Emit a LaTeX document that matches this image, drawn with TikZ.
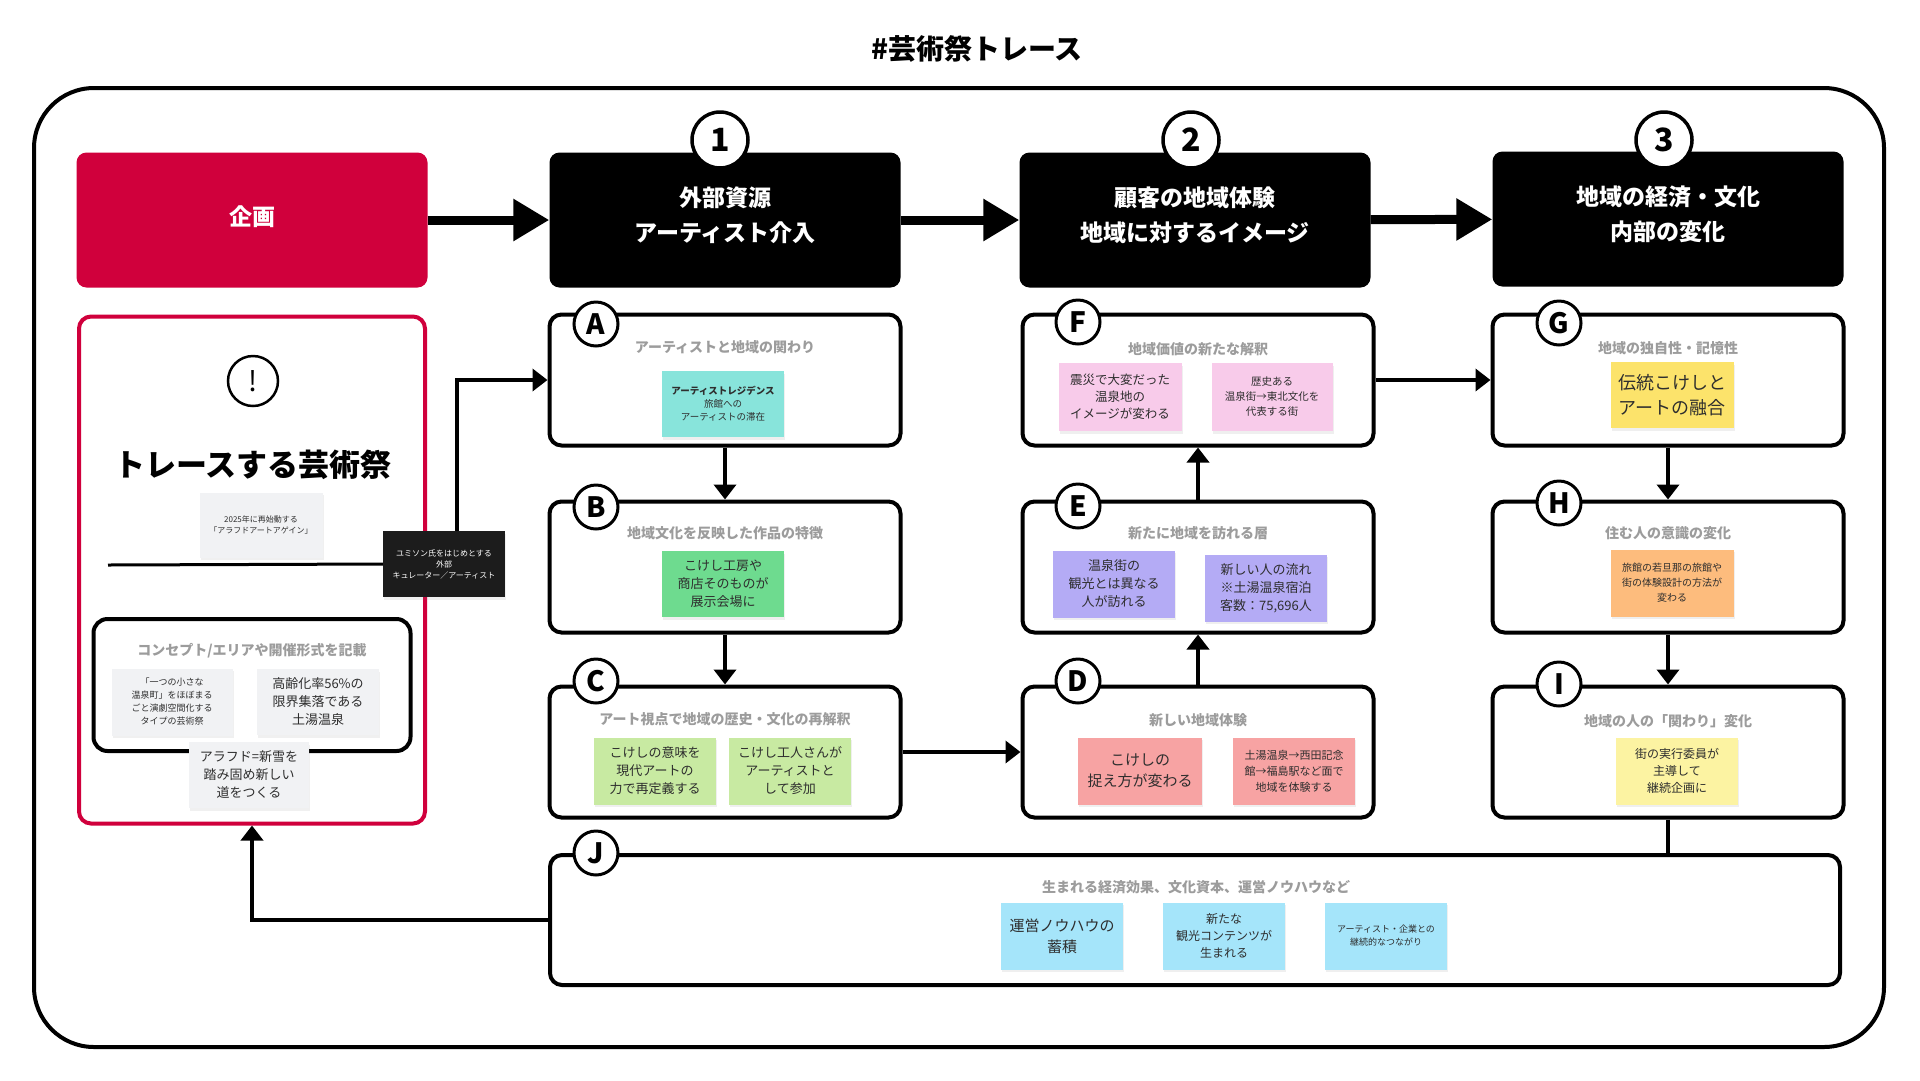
\documentclass[tikz,border=0pt]{standalone}
\usepackage{fontspec}
\setmainfont{Noto Sans CJK JP}
\usetikzlibrary{arrows.meta,shadows}

\definecolor{planred}{HTML}{D0003C}
\definecolor{ttlgray}{HTML}{9C9C9C}
\definecolor{ink}{HTML}{2E2E2E}
\definecolor{paper}{HTML}{F1F2F4}
\definecolor{extbg}{HTML}{1C1C1C}
\definecolor{noteA}{HTML}{88E4DB}
\definecolor{noteB}{HTML}{6EDB8F}
\definecolor{noteC}{HTML}{C8EAA2}
\definecolor{noteD}{HTML}{F7A3A3}
\definecolor{noteE}{HTML}{B4ABF5}
\definecolor{noteF}{HTML}{F8CBEA}
\definecolor{noteG}{HTML}{FCE36B}
\definecolor{noteH}{HTML}{FDBC7D}
\definecolor{noteI}{HTML}{FCF3A2}
\definecolor{noteJ}{HTML}{A5E5FA}

\tikzset{
    fs/.style 2 args={font=\fontsize{#1}{#2}\selectfont},
    hdr/.style={fill=black, rounded corners=10pt, minimum width=351pt, minimum height=135pt,
        text=white, align=center, text depth=12pt, font=\bfseries\fontsize{23}{35}\selectfont},
    panel/.style={draw, line width=4pt, fill=white, rounded corners=12pt,
        minimum width=351pt, minimum height=131pt},
    tag/.style={circle, draw, line width=3pt, fill=white, minimum size=44pt, inner sep=0pt,
        font=\bfseries\fontsize{28}{28}\selectfont},
    num/.style={circle, draw, line width=3.5pt, fill=white, minimum size=56pt, inner sep=0pt,
        font=\bfseries\fontsize{32}{32}\selectfont},
    ttl/.style={text=ttlgray, font=\bfseries\fontsize{14}{14}\selectfont},
    note/.style={fill=#1, minimum width=122pt, minimum height=66pt, inner sep=2pt,
        align=center, text=ink,
        drop shadow={opacity=0.12, shadow xshift=1pt, shadow yshift=-2.5pt}},
    flow/.style={line width=9pt, -{Triangle[length=36pt,width=40pt]}},
    link/.style={line width=4pt, -{Triangle[length=15pt,width=22pt]}},
}

\begin{document}
\begin{tikzpicture}[x=1pt, y=-1pt]
    \useasboundingbox (0,0) rectangle (1920,1080);

    % frame and title
    \draw[line width=4pt, rounded corners=60pt] (34,88) rectangle (1884,1047);
    \node[font=\bfseries\fontsize{28}{28}\selectfont] (title) at (977,49) {\#芸術祭トレース};

    % top row
    \node[hdr, fill=planred, text depth=8pt] (plan) at (252,220) {企画};
    \node[hdr] (h1) at (725,220) {外部資源\\アーティスト介入};
    \node[hdr] (h2) at (1195,220) {顧客の地域体験\\地域に対するイメージ};
    \node[hdr] (h3) at (1668,219) {地域の経済・文化\\内部の変化};
    \node[num] (n1) at (720,140) {1};
    \node[num] (n2) at (1191,140) {2};
    \node[num] (n3) at (1664,140) {3};

    \draw[flow] (plan) -- (h1);
    \draw[flow] (h1) -- (h2);
    \draw[flow] (h2) -- (h3);

    % left panel
    \node[draw=planred, line width=4pt, rounded corners=12pt, minimum width=346pt,
        minimum height=507pt] (trace) at (252,570) {};
    \node[circle, draw, line width=2.5pt, minimum size=50pt, inner sep=0pt,
        fs={28}{28}] (alert) at (253,381) {!};
    \node[font=\bfseries\fontsize{31}{31}\selectfont] (tracettl) at (253,465) {トレースする芸術祭};
    \node[note=paper, minimum width=123pt, minimum height=65pt, fs={8}{11}] (revive) at (261,525)
        {2025年に再始動する\\「アラフドアートアゲイン」};
    \node[note=extbg, text=white, fs={8}{11}] (ext) at (444,564)
        {ユミソン氏をはじめとする\\外部\\キュレーター／アーティスト};
    \coordinate (rule) at (108,565);
    \draw[line width=3pt] (rule) -- (ext.west);

    \node[draw, line width=4pt, rounded corners=14pt, minimum width=317pt,
        minimum height=132pt] (concept) at (252,685) {};
    \node[ttl] (conceptttl) at (252,651) {コンセプト/エリアや開催形式を記載};
    \node[note=paper, minimum width=121pt, minimum height=67pt, fs={9}{13}] (town) at (172,702)
        {「一つの小さな\\温泉町」をほぼまる\\ごと演劇空間化する\\タイプの芸術祭};
    \node[note=paper, fs={13}{18}] (aging) at (318,702)
        {高齢化率56\%の\\限界集落である\\土湯温泉};
    \node[note=paper, minimum width=120pt, fs={13}{18}] (arafd) at (249,775)
        {アラフド=新雪を\\踏み固め新しい\\道をつくる};

    % column 1
    \node[panel] (A) at (725,380) {};
    \node[panel] (B) at (725,567) {};
    \node[panel] (C) at (725,752) {};
    \node[tag] (tA) at (596,324) {A};
    \node[tag] (tB) at (596,507) {B};
    \node[tag] (tC) at (596,681) {C};
    \node[ttl] (At) at (725,347) {アーティストと地域の関わり};
    \node[ttl] (Bt) at (725,533) {地域文化を反映した作品の特徴};
    \node[ttl] (Ct) at (725,719) {アート視点で地域の歴史・文化の再解釈};
    \node[note=noteA, fs={9.5}{13}] (resid) at (723,404)
        {\textbf{アーティストレジデンス}\\旅館への\\アーティストの滞在};
    \node[note=noteB, fs={13}{18}] (studio) at (723,584)
        {こけし工房や\\商店そのものが\\展示会場に};
    \node[note=noteC, minimum height=67pt, fs={13}{18}] (redef) at (655,771)
        {こけしの意味を\\現代アートの\\力で再定義する};
    \node[note=noteC, minimum height=67pt, fs={13}{18}] (maker) at (790,771)
        {こけし工人さんが\\アーティストと\\して参加};

    % column 2
    \node[panel] (F) at (1198,380) {};
    \node[panel] (E) at (1198,567) {};
    \node[panel] (D) at (1198,752) {};
    \node[tag] (tF) at (1078,322) {F};
    \node[tag] (tE) at (1078,506) {E};
    \node[tag] (tD) at (1078,681) {D};
    \node[ttl] (Ft) at (1198,349) {地域価値の新たな解釈};
    \node[ttl] (Et) at (1198,533) {新たに地域を訪れる層};
    \node[ttl] (Dt) at (1198,720) {新しい地域体験};
    \node[note=noteF, minimum width=123pt, minimum height=68pt, fs={12.5}{17}] (quake) at (1120,397)
        {震災で大変だった\\温泉地の\\イメージが変わる};
    \node[note=noteF, minimum width=121pt, minimum height=68pt, fs={10.5}{15}] (history) at (1272,397)
        {歴史ある\\温泉街→東北文化を\\代表する街};
    \node[note=noteE, minimum height=67pt, fs={13}{18}] (visit) at (1114,584)
        {温泉街の\\観光とは異なる\\人が訪れる};
    \node[note=noteE, minimum height=67pt, fs={13}{18}] (stream) at (1266,588)
        {新しい人の流れ\\※土湯温泉宿泊\\客数：75,696人};
    \node[note=noteD, minimum width=124pt, minimum height=67pt, fs={15}{21}] (view) at (1140,771)
        {こけしの\\捉え方が変わる};
    \node[note=noteD, minimum height=67pt, fs={11}{16}] (route) at (1294,771)
        {土湯温泉→西田記念\\館→福島駅など面で\\地域を体験する};

    % column 3
    \node[panel] (G) at (1668,380) {};
    \node[panel] (H) at (1668,567) {};
    \node[panel] (I) at (1668,752) {};
    \node[tag] (tG) at (1559,323) {G};
    \node[tag] (tH) at (1559,503) {H};
    \node[tag] (tI) at (1559,684) {I};
    \node[ttl] (Gt) at (1668,348) {地域の独自性・記憶性};
    \node[ttl] (Ht) at (1668,533) {住む人の意識の変化};
    \node[ttl] (It) at (1668,721) {地域の人の「関わり」変化};
    \node[note=noteG, minimum width=123pt, fs={18}{25}] (fusion) at (1672,395)
        {伝統こけしと\\アートの融合};
    \node[note=noteH, minimum width=123pt, minimum height=67pt, fs={10}{15}] (inn) at (1672,583)
        {旅館の若旦那の旅館や\\街の体験設計の方法が\\変わる};
    \node[note=noteI, minimum height=67pt, fs={12}{17}] (lead) at (1677,771)
        {街の実行委員が\\主導して\\継続企画に};

    % bottom panel
    \node[panel, minimum width=1290pt, minimum height=130pt] (J) at (1195,920) {};
    \node[tag] (tJ) at (596,853) {J};
    \node[ttl] (Jt) at (1196,887) {生まれる経済効果、文化資本、運営ノウハウなど};
    \node[note=noteJ, minimum height=67pt, fs={15}{21}] (knowhow) at (1062,936)
        {運営ノウハウの\\蓄積};
    \node[note=noteJ, minimum height=67pt, fs={12}{17}] (content) at (1224,936)
        {新たな\\観光コンテンツが\\生まれる};
    \node[note=noteJ, minimum height=67pt, fs={9}{13}] (bond) at (1386,936)
        {アーティスト・企業との\\継続的なつながり};

    % connectors
    \draw[link] ([xshift=13pt]ext.north) |- (A.west);
    \draw[link] (A) -- (B);
    \draw[link] (B) -- (C);
    \draw[link] (C) -- (D);
    \draw[link] (D) -- (E);
    \draw[link] (E) -- (F);
    \draw[link] (F) -- (G);
    \draw[link] (G) -- (H);
    \draw[link] (H) -- (I);
    \draw[line width=4pt] (I.south) -- (I.south |- J.north);
    \draw[link] (J.west) -| (trace.south);
\end{tikzpicture}
\end{document}
